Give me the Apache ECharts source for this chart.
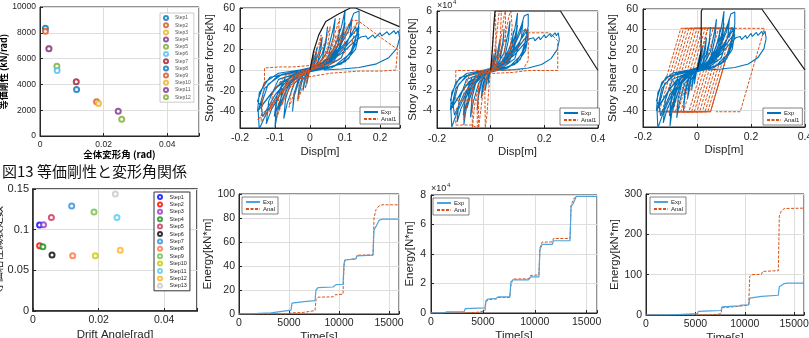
<!DOCTYPE html>
<html>
<head>
<meta charset="utf-8">
<script src="https://cdn.jsdelivr.net/npm/echarts@6/dist/echarts.min.js"></script>
<style>
  html, body { margin: 0; padding: 0; background: #fff; }
  #chart { width: 809px; height: 338px; }
</style>
</head>
<body>
<div id="chart"></div>
<script>
// ---- fig 13: equivalent stiffness vs drift ----
const stiffSteps = ['Step1','Step2','Step3','Step4','Step5','Step6','Step7','Step8','Step9','Step10','Step11','Step12'];
const stiffDrift = [0.0017, 0.0017, 0.0028, 0.0028, 0.0053, 0.0054, 0.0114, 0.0115, 0.0178, 0.0184, 0.0246, 0.0257];
const stiffK     = [8350, 8120, 6780, 6760, 5400, 5080, 4200, 3600, 2650, 2510, 1920, 1300];

// ---- equivalent damping vs drift ----
const dampSteps = ['Step1','Step2','Step3','Step4','Step5','Step6','Step7','Step8','Step9','Step10','Step11','Step12','Step13'];
const dampDrift = [0.0020, 0.0020, 0.0032, 0.0030, 0.0056, 0.0058, 0.0118, 0.0121, 0.0186, 0.0190, 0.0256, 0.0266, 0.0251];
const dampH     = [0.1056, 0.0801, 0.1060, 0.0789, 0.1151, 0.0690, 0.1290, 0.0678, 0.1216, 0.0678, 0.1150, 0.0748, 0.1438];

// ---- hysteresis, experiment [disp m, force kN] ----
const expLoop = [
  [0,0],[0.004,6],[0.008,12],[0.01,15],[0.008,9],[0.004,3],[0,0.5],[-0.004,-5],[-0.008,-11],[-0.01,-14],[-0.008,-8],[-0.003,-2],
  [0.003,2],[0.01,9],[0.016,16],[0.02,22],[0.017,13],[0.01,5],[0.002,1],[-0.006,-3],[-0.014,-10],[-0.02,-20],[-0.017,-11],[-0.01,-4],
  [0,0],[0.012,5],[0.024,16],[0.035,32],[0.031,20],[0.022,8],[0.01,2],[-0.008,-3],[-0.022,-10],[-0.035,-28],[-0.031,-16],[-0.02,-5],
  [0,0],[0.02,6],[0.035,16],[0.045,28],[0.05,42],[0.046,27],[0.035,11],[0.015,2],[-0.01,-2],[-0.03,-9],[-0.045,-25],[-0.05,-40],[-0.046,-23],[-0.032,-8],
  [0,0.5],[0.03,8],[0.05,18],[0.065,38],[0.072,50],[0.067,32],[0.052,13],[0.025,3],[-0.015,-3],[-0.045,-13],[-0.065,-32],[-0.075,-47],[-0.07,-28],[-0.052,-9],
  [0,0],[0.03,5],[0.06,16],[0.08,30],[0.085,40],[0.08,24],[0.06,8],[0.02,1],[-0.03,-4],[-0.06,-14],[-0.08,-30],[-0.088,-38],[-0.08,-20],[-0.055,-6],
  [0,0],[0.04,8],[0.07,22],[0.09,42],[0.1,58],[0.096,38],[0.078,15],[0.04,3],[-0.02,-3],[-0.06,-14],[-0.09,-36],[-0.1,-55],[-0.096,-32],[-0.075,-11],
  [-0.02,-1],[0.03,4],[0.07,17],[0.09,34],[0.1,46],[0.092,27],[0.07,9],[0.02,1],[-0.04,-5],[-0.075,-20],[-0.095,-38],[-0.102,-45],[-0.094,-24],[-0.07,-7],
  [0,0],[0.04,6],[0.08,20],[0.11,38],[0.12,50],[0.115,34],[0.09,12],[0.04,2],[-0.03,-4],[-0.07,-15],[-0.11,-38],[-0.125,-52],[-0.118,-30],[-0.09,-9],
  [0,1],[0.05,10],[0.09,28],[0.115,46],[0.125,55],[0.14,57],[0.14,45],[0.125,22],[0.09,6],[0.03,1],[-0.04,-5],[-0.09,-22],[-0.125,-42],[-0.145,-57],[-0.148,-40],[-0.13,-18],[-0.09,-5],
  [0,0],[0.05,7],[0.1,24],[0.13,42],[0.135,36],[0.115,16],[0.07,4],[0,0],[-0.06,-8],[-0.1,-24],[-0.135,-45],[-0.14,-34],[-0.12,-14],[-0.08,-4],
  [-0.02,0],[0.05,8],[0.1,26],[0.13,38],[0.14,42],[0.135,28],[0.11,11],[0.06,2],[-0.02,-2],[-0.08,-11],[-0.12,-27],[-0.15,-40],[-0.145,-22],[-0.115,-7],
  [0,0],[0.06,8],[0.1,22],[0.13,33],[0.14,35],[0.13,20],[0.1,8],[0.04,1],[-0.05,-5],[-0.1,-18],[-0.14,-35],[-0.15,-30],[-0.13,-12],[-0.09,-3],
  [-0.03,0],[0.04,5],[0.09,16],[0.125,27],[0.145,32],[0.16,33],[0.165,30],[0.18,34],[0.185,31],[0.2,36],[0.205,33],[0.22,37],[0.226,34],[0.24,38],[0.245,35],[0.252,38],[0.256,31],[0.248,21],[0.225,12],[0.19,6],[0.14,2.5],[0.09,1],[0.04,0]
];

// ---- hysteresis, analysis ----
const anal1KN = [
  [0,0],[0.006,10],[0.012,18],[0.009,10],[0.003,3],[-0.004,-4],[-0.01,-14],[-0.014,-18],[-0.01,-9],[-0.004,-2],
  [0.01,8],[0.025,25],[0.032,34],[0.026,18],[0.012,5],[-0.008,-4],[-0.025,-20],[-0.035,-30],[-0.028,-14],[-0.012,-3],
  [0.015,6],[0.04,25],[0.058,42],[0.05,22],[0.03,7],[-0.01,-2],[-0.04,-18],[-0.06,-36],[-0.052,-17],[-0.03,-5],
  [0,0],[0.03,8],[0.06,20],[0.075,34],[0.07,20],[0.04,6],[0,0],[-0.04,-8],[-0.07,-24],[-0.08,-34],[-0.07,-16],[-0.04,-4],
  [0.02,4],[0.06,24],[0.085,50],[0.078,28],[0.05,8],[0,0],[-0.05,-12],[-0.08,-32],[-0.095,-46],[-0.088,-24],[-0.06,-8],
  [0,0],[0.05,12],[0.09,30],[0.105,40],[0.095,20],[0.06,6],[0,0],[-0.06,-10],[-0.1,-30],[-0.115,-40],[-0.105,-20],[-0.07,-5],
  [0.01,2],[0.07,24],[0.1,40],[0.12,48],[0.135,48],[0.12,26],[0.08,9],[0.02,2],[-0.05,-6],[-0.1,-30],[-0.13,-46],[-0.14,-50],[-0.135,-28],[-0.13,-10],[-0.13,2],[-0.09,3],[-0.05,3],
  [0.02,5],[0.08,24],[0.12,40],[0.14,47],[0.2,32],[0.25,20],[0.245,0],[0.2,-1],[0.14,-1],[0.06,-3],[-0.03,-8],[-0.09,-25],[-0.14,-44],[-0.15,-48],[-0.12,-40],[-0.08,-20],[-0.04,-6],[0,0]
];
const anal1N = [
  [0,0],[0.004,15000],[0.012,45000],[0.018,60000],[0.024,60000],[0.02,20000],[0.012,3000],[0,0],[-0.006,-15000],[-0.014,-45000],[-0.02,-58000],[-0.026,-58000],[-0.022,-15000],[-0.01,-2000],
  [0.005,5000],[0.02,30000],[0.032,60000],[0.04,60000],[0.034,20000],[0.02,3000],[-0.01,-3000],[-0.03,-25000],[-0.045,-58000],[-0.052,-58000],[-0.045,-15000],[-0.03,-2000],
  [0.01,3000],[0.035,25000],[0.05,55000],[0.055,60000],[0.06,60000],[0.055,25000],[0.04,4000],[0,0],[-0.04,-10000],[-0.06,-35000],[-0.068,-58000],[-0.075,-58000],[-0.07,-20000],[-0.05,-3000],
  [0.02,5000],[0.05,28000],[0.068,55000],[0.075,60000],[0.08,45000],[0.07,10000],[0.03,2000],[-0.05,-5000],[-0.085,-30000],[-0.1,-50000],[-0.105,-52000],[-0.1,-20000],[-0.08,-5000],
  [0,0],[0.06,15000],[0.1,35000],[0.13,42000],[0.14,38000],[0.14,10000],[0.12,1000],[0.02,0],[-0.05,-5000],[-0.1,-25000],[-0.13,-40000],[-0.13,-55000],[-0.07,-55000],[-0.05,-58000],[-0.05,-30000],[-0.13,-30000],[-0.13,0],[-0.04,0],[0,1000],
  [0.06,10000],[0.12,30000],[0.14,38000],[0.22,38000],[0.25,30000],[0.25,0],[0.14,0],[0.08,-2000],[0,-3000]
];
const anal1Bilin = [
  [0,0],[0.02,20],[0.04,41],[0.06,41],[-0.03,-41],[-0.05,-41],[0.04,41],[0.07,41],[-0.02,-41],[-0.06,-41],[0.03,41],[0.08,41],[-0.01,-41],[-0.07,-41],
  [0.02,41],[0.09,41],[0,-41],[-0.08,-41],[0.01,41],[0.1,41],[0.01,-41],[-0.09,-41],[0,41],[0.11,41],[0.02,-41],[-0.1,-41],[-0.01,41],[0.12,41],
  [0.03,-41],[-0.11,-41],[-0.02,41],[0.13,41],[0.04,-41],[-0.12,-41],[-0.03,41],[0.14,41],[0.05,-41],[-0.13,-41],[-0.04,41],[0.14,41],[0.05,-41],
  [-0.14,-41],[-0.05,41],[0.14,41],[0.05,-41],[-0.15,-41],[-0.06,41],[0.25,41],[0.16,-41],[0.07,-41]
];
const envelopeKN = [[0,0],[0.01,18],[0.025,34],[0.045,47],[0.08,54],[0.115,60],[0.13,60],[0.255,42]];
const envelopeN  = [[0,0],[0.006,20000],[0.013,50000],[0.016,60000],[0.26,60000],[0.4,0]];
const envelopeBilin = [[0,0],[0.01,10],[0.015,20],[0.016,58],[0.02,60],[0.24,60],[0.4,0]];

// ---- cumulative energy [time s, energy] ----
const energyExpKNm = [[0,0],[1100,0],[2000,0.5],[3200,1],[3300,2.5],[5200,3.2],[5300,9],[5500,10],[6500,10.3],[6600,11],[7600,11.2],[7700,20],[7900,22],[9400,22.5],[9600,23.5],[9700,24.5],[10400,24.8],[10500,42],[10600,45],[11700,46],[11800,48.5],[13400,49],[13500,70],[13700,73],[14000,78],[14300,79],[16000,79]];
const energyAnalKNm = [[0,0],[4800,0],[5300,1],[6300,1.2],[6500,2.5],[7600,2.8],[7700,12],[7900,14],[9400,14.3],[9600,16],[10400,16.5],[10500,40],[10600,45],[11700,46],[11800,49],[13400,49.3],[13500,80],[13700,87],[14000,90],[14300,91],[16000,91]];
const energyExpNm = [[0,0],[1100,0],[1500,700],[3200,1000],[3300,3000],[5200,3500],[5300,8500],[5500,9500],[6300,10000],[6500,11000],[7600,11000],[7700,21000],[7900,22500],[9400,22500],[9600,24500],[10400,24500],[10500,43000],[10700,46500],[11700,46500],[11800,49000],[13400,49000],[13500,72500],[13700,74000],[14000,79000],[16000,79000]];
const energyAnalNm = [[0,0],[3000,0],[4500,500],[5200,1500],[5300,7500],[5500,9000],[6300,9500],[6500,10500],[7600,10500],[7700,19000],[7900,23000],[9400,23200],[9600,25500],[10400,25800],[10500,44000],[10700,48000],[11700,48200],[11800,50500],[13400,50500],[13500,73000],[13800,78000],[14100,79000],[16000,79000]];
const energyAnal2KNm = [[0,0],[6400,0],[6500,3],[7600,3],[7700,18],[7900,21],[9400,21.5],[9600,24],[10400,25],[10500,95],[10700,100],[11700,101],[11800,108],[12000,110],[13400,110],[13500,245],[13700,258],[14000,264],[16000,265]];

const FONT = '"Liberation Sans", Arial, sans-serif';
const JP = '"Noto Sans CJK JP", sans-serif';
const INK = '#262626';
const BLUE = '#0072BD', ORANGE = '#D95319';
const matlabColors = ['#0072BD','#D95319','#EDB120','#7E2F8E','#77AC30','#4DBEEE','#A2142F'];
const dampColors = ['#0000FF','#FF0000','#9B30C8','#109010','#C8305A','#000000','#2A8FD6','#FF7040','#70C040','#C8C800','#50C8F8','#FFB020','#C8C8C8'];

const grids = [
  { left: 40,  top: 7,   width: 159, height: 129 },
  { left: 240, top: 8,   width: 160, height: 120 },
  { left: 437, top: 11,  width: 161, height: 117 },
  { left: 643, top: 9,   width: 162, height: 118 },
  { left: 33,  top: 189, width: 164, height: 122 },
  { left: 239, top: 194, width: 160, height: 120 },
  { left: 431, top: 195, width: 166, height: 118 },
  { left: 646, top: 194, width: 158, height: 121 }
].map((g, i) => Object.assign({
  show: true, containLabel: false, outerBoundsMode: 'none',
  borderColor: INK, borderWidth: i === 4 ? 1.5 : 1, backgroundColor: '#fff'
}, g));

function tickFmt(step, div, dec) {
  return function (v) {
    const q = v / step;
    if (Math.abs(q - Math.round(q)) > 1e-6) return '';
    return String(+(v / div).toFixed(dec));
  };
}

function axis(gi, min, max, interval, fmt, opt) {
  const a = {
    type: 'value', gridIndex: gi, min: min, max: max,
    axisLine: { show: true, onZero: false, lineStyle: { color: INK, width: gi === 4 ? 1.5 : 1 } },
    axisTick: { show: true, inside: true, length: 3, lineStyle: { color: INK } },
    splitLine: { show: true, lineStyle: { color: '#dedede', width: 1 } },
    axisLabel: { fontFamily: FONT, fontSize: opt.fs || 10, color: INK, margin: opt.margin || 4, formatter: fmt },
    name: opt.name || '', nameLocation: 'middle', nameGap: opt.gap || 18,
    nameTextStyle: { fontFamily: opt.nameFont || FONT, fontSize: opt.nfs || 11, color: opt.nameColor || INK, fontWeight: opt.bold ? 'bold' : 'normal' }
  };
  if (interval != null) a.interval = interval;
  else a.splitNumber = 5;
  return a;
}

const strip = n => n.split('#')[0];

const xAxes = [
  axis(0, 0, 0.05, 0.02, tickFmt(0.02, 1, 2), { fs: 8.5, margin: 4, name: '全体変形角 (rad)', gap: 14, nfs: 9.5, bold: true, nameFont: JP, nameColor: '#000' }),
  axis(1, -0.2, 0.257, 0.1, tickFmt(0.1, 1, 1), { fs: 10.5, margin: 5, name: 'Disp[m]', gap: 18, nfs: 11.5 }),
  axis(2, -0.2, 0.4, 0.2, tickFmt(0.2, 1, 1), { fs: 10.5, margin: 6, name: 'Disp[m]', gap: 17, nfs: 11.5 }),
  axis(3, -0.2, 0.4, 0.2, tickFmt(0.2, 1, 1), { fs: 10.5, margin: 5, name: 'Disp[m]', gap: 17, nfs: 11.5 }),
  axis(4, 0, 0.05, 0.02, tickFmt(0.02, 1, 2), { fs: 10.5, margin: 4, name: 'Drift Angle[rad]', gap: 18, nfs: 11.5 }),
  axis(5, 0, 16000, 5000, tickFmt(5000, 1, 0), { fs: 10.5, margin: 4, name: 'Time[s]', gap: 17, nfs: 11.5 }),
  axis(6, 0, 16000, 5000, tickFmt(5000, 1, 0), { fs: 10.5, margin: 4, name: 'Time[s]', gap: 17, nfs: 11.5 }),
  axis(7, 0, 16000, 5000, tickFmt(5000, 1, 0), { fs: 10.5, margin: 4, name: 'Time[s]', gap: 17, nfs: 11.5 })
];
const yAxes = [
  axis(0, 0, 10000, 2000, tickFmt(2000, 1, 0), { fs: 8.5, margin: 4, name: '等価剛性 (kN/rad)', gap: 27, nfs: 9, bold: true, nameFont: JP, nameColor: '#000' }),
  axis(1, -56, 60, null, tickFmt(20, 1, 0), { fs: 10.5, margin: 5, name: 'Story shear force[kN]', gap: 19, nfs: 11.5 }),
  axis(2, -58000, 60000, null, tickFmt(20000, 10000, 0), { fs: 10.5, margin: 5, name: 'Story shear force[N]', gap: 16, nfs: 11.5 }),
  axis(3, -56, 60, null, tickFmt(20, 1, 0), { fs: 10.5, margin: 5, name: 'Story shear force[kN]', gap: 24, nfs: 11.5 }),
  axis(4, 0, 0.15, 0.05, tickFmt(0.05, 1, 2), { fs: 11, margin: 4, name: '等価粘性減衰定数', gap: 27, nfs: 11, nameFont: JP }),
  axis(5, 0, 100, 20, tickFmt(20, 1, 0), { fs: 10.5, margin: 4, name: 'Energy[kN*m]', gap: 20, nfs: 11.5 }),
  axis(6, 0, 80000, 20000, tickFmt(20000, 10000, 0), { fs: 10.5, margin: 5, name: 'Energy[N*m]', gap: 12, nfs: 11.5 }),
  axis(7, 0, 300, 100, tickFmt(100, 1, 0), { fs: 10.5, margin: 4, name: 'Energy[kN*m]', gap: 21, nfs: 11.5 })
];

const series = [];
stiffSteps.forEach((s, i) => series.push({
  name: s + '#k', type: 'scatter', xAxisIndex: 0, yAxisIndex: 0, symbol: 'emptyCircle', symbolSize: 5,
  itemStyle: { color: matlabColors[i % 7], borderWidth: 1.2 }, data: [[stiffDrift[i], stiffK[i]]]
}));
dampSteps.forEach((s, i) => series.push({
  name: s + '#h', type: 'scatter', xAxisIndex: 4, yAxisIndex: 4, symbol: 'emptyCircle', symbolSize: 5,
  itemStyle: { color: dampColors[i], borderWidth: 1 }, data: [[dampDrift[i], dampH[i]]]
}));

function line(name, gi, data, color, dashed, width, z) {
  return {
    name: name, type: 'line', xAxisIndex: gi, yAxisIndex: gi, data: data, symbol: 'none', z: z || 2,
    animation: false, clip: true,
    lineStyle: { color: color, width: width || 1, type: dashed ? [3, 1.5] : 'solid' },
    itemStyle: { color: color }
  };
}
const expN = expLoop.map(p => [p[0], p[1] * 1000]);

series.push(line('Exp#2', 1, expLoop, BLUE, false, 1.1, 2));
series.push(line('Anal1#2', 1, anal1KN, ORANGE, true, 1, 3));
series.push(line('env#2', 1, envelopeKN, '#1a1a1a', false, 1.2, 4));
series.push(line('Exp#3', 2, expN, BLUE, false, 1.1, 2));
series.push(line('Anal1#3', 2, anal1N, ORANGE, true, 1, 3));
series.push(line('env#3', 2, envelopeN, '#1a1a1a', false, 1.2, 4));
series.push(line('Anal1#4', 3, anal1Bilin, ORANGE, true, 1, 2));
series.push(line('Exp#4', 3, expLoop, BLUE, false, 1.1, 3));
series.push(line('env#4', 3, envelopeBilin, '#1a1a1a', false, 1.2, 4));

series.push(line('Exp#6', 5, energyExpKNm, '#4DA3DD', false, 1.2, 3));
series.push(line('Anal#6', 5, energyAnalKNm, ORANGE, true, 1, 2));
series.push(line('Exp#7', 6, energyExpNm, '#4DA3DD', false, 1.2, 3));
series.push(line('Anal#7', 6, energyAnalNm, ORANGE, true, 1, 2));
series.push(line('Exp#8', 7, energyExpKNm, '#4DA3DD', false, 1.2, 3));
series.push(line('Anal#8', 7, energyAnal2KNm, ORANGE, true, 1, 2));

function legend(pos, names, o) {
  return Object.assign({
    orient: 'vertical', show: true, selectedMode: false,
    padding: [2, 3, 2, 3], itemGap: 1, itemWidth: 14, itemHeight: 5,
    borderColor: '#333', borderWidth: 0.6, backgroundColor: '#fff',
    itemStyle: { opacity: 0 },
    textStyle: { fontFamily: FONT, fontSize: 6, color: INK, padding: [0, 0, 0, -2] },
    formatter: strip, data: names
  }, pos, o || {});
}

const option = {
  animation: false,
  backgroundColor: '#fff',
  grid: grids,
  xAxis: xAxes,
  yAxis: yAxes,
  series: series,
  legend: [
    legend({ left: 160, top: 13 }, stiffSteps.map(s => s + '#k'), { itemStyle: {}, itemWidth: 8, itemHeight: 4, itemGap: 1.2, borderColor: '#aaa', textStyle: { fontFamily: FONT, fontSize: 5, color: '#555' } }),
    legend({ left: 154, top: 192 }, dampSteps.map(s => s + '#h'), { itemStyle: {}, itemWidth: 9, itemHeight: 4, itemGap: 1.4, borderWidth: 1, textStyle: { fontFamily: FONT, fontSize: 5.5, color: INK } }),
    legend({ left: 360, top: 107 }, ['Exp#2', 'Anal1#2']),
    legend({ left: 560, top: 108 }, ['Exp#3', 'Anal1#3']),
    legend({ left: 763, top: 108 }, ['Exp#4', 'Anal1#4']),
    legend({ left: 242, top: 197 }, ['Exp#6', 'Anal#6']),
    legend({ left: 433, top: 198 }, ['Exp#7', 'Anal#7']),
    legend({ left: 650, top: 197 }, ['Exp#8', 'Anal#8'])
  ],
  graphic: [
    { type: 'text', left: 2, top: 164, z: 100, style: { text: '図13 等価剛性と変形角関係', font: '15px "Noto Sans CJK JP", sans-serif', fill: '#111' } },
    { type: 'text', left: 437, top: 1, style: { text: '×10', font: '9px "Liberation Sans", Arial', fill: INK } },
    { type: 'text', left: 453, top: -1, style: { text: '4', font: '6px "Liberation Sans", Arial', fill: INK } },
    { type: 'text', left: 431, top: 184, style: { text: '×10', font: '9px "Liberation Sans", Arial', fill: INK } },
    { type: 'text', left: 447, top: 182, style: { text: '4', font: '6px "Liberation Sans", Arial', fill: INK } }
  ]
};

const chart = echarts.init(document.getElementById('chart'), null, { renderer: 'canvas' });
chart.setOption(option);
</script>
</body>
</html>
